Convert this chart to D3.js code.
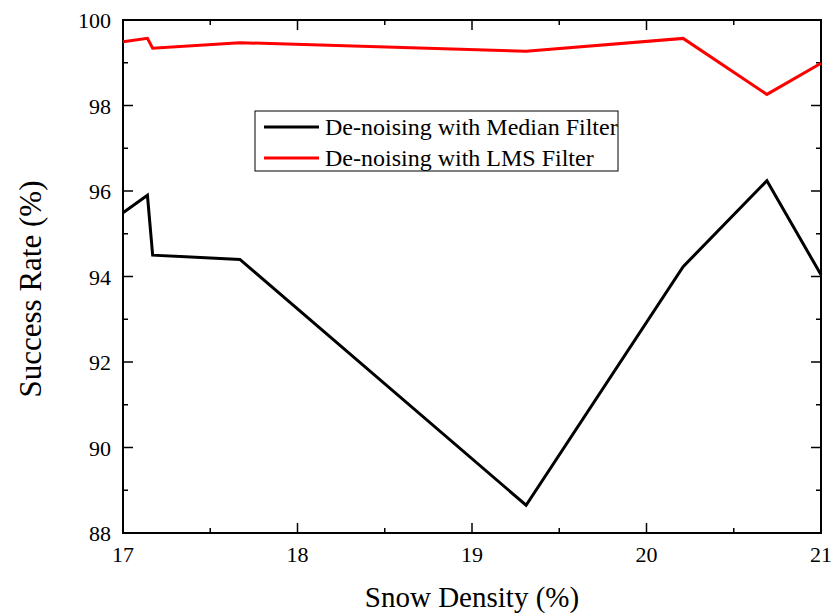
<!DOCTYPE html>
<html>
<head>
<meta charset="utf-8">
<script src="https://cdn.jsdelivr.net/npm/d3@7"></script>
<style>
  body { margin: 0; background: #fff; }
  text { font-family: "Liberation Serif", "Times New Roman", serif; }
</style>
</head>
<body>
<svg id="chart" width="832" height="613"></svg>
<script>
// Snow density (%) on x, success rate (%) on y
const density = [17, 17.14, 17.17, 17.67, 19.31, 20.21, 20.69, 21];
const medianRate = [95.49, 95.9, 94.5, 94.4, 88.65, 94.23, 96.24, 94.04];
const lmsRate = [99.49, 99.57, 99.34, 99.47, 99.27, 99.57, 98.26, 98.99];
const xTicks = [17, 18, 19, 20, 21];
const yTicks = [88, 90, 92, 94, 96, 98, 100];
const seriesNames = ["De-noising with Median Filter", "De-noising with LMS Filter"];
const seriesColors = ["#000000", "#ff0000"];

const svg = d3.select("#chart");
const plotLeft = 123, plotRight = 821, plotTop = 20, plotBottom = 533;

const x = d3.scaleLinear().domain([17, 21]).range([plotLeft, plotRight]);
const y = d3.scaleLinear().domain([88, 100]).range([plotBottom, plotTop]);

const xMinor = d3.range(17, 21.01, 0.5);
const yMinor = d3.range(88, 100.01, 1);

// frame
svg.append("rect")
    .attr("x", plotLeft).attr("y", plotTop)
    .attr("width", plotRight - plotLeft).attr("height", plotBottom - plotTop)
    .attr("fill", "none").attr("stroke", "#000").attr("stroke-width", 2);

// ticks, inward on all four sides
const tickG = svg.append("g").attr("stroke", "#000").attr("stroke-width", 1.5);
xMinor.forEach(v => {
    const len = Number.isInteger(v) ? 10 : 5;
    tickG.append("line").attr("x1", x(v)).attr("x2", x(v)).attr("y1", plotBottom).attr("y2", plotBottom - len);
    tickG.append("line").attr("x1", x(v)).attr("x2", x(v)).attr("y1", plotTop).attr("y2", plotTop + len);
});
yMinor.forEach(v => {
    const len = v % 2 === 0 ? 10 : 5;
    tickG.append("line").attr("y1", y(v)).attr("y2", y(v)).attr("x1", plotLeft).attr("x2", plotLeft + len);
    tickG.append("line").attr("y1", y(v)).attr("y2", y(v)).attr("x1", plotRight).attr("x2", plotRight - len);
});

// tick labels
svg.append("g").selectAll("text").data(xTicks).join("text")
    .attr("x", d => x(d)).attr("y", 562)
    .attr("text-anchor", "middle").attr("font-size", "22px")
    .text(d => d);

svg.append("g").selectAll("text").data(yTicks).join("text")
    .attr("x", 111).attr("y", d => y(d) + 8)
    .attr("text-anchor", "end").attr("font-size", "22px")
    .text(d => d);

// axis titles
svg.append("text")
    .attr("x", (plotLeft + plotRight) / 2).attr("y", 607)
    .attr("text-anchor", "middle").attr("font-size", "29px")
    .text("Snow Density (%)");

svg.append("text")
    .attr("transform", "translate(41, 289) rotate(-90)")
    .attr("text-anchor", "middle").attr("font-size", "31px")
    .text("Success Rate (%)");

// lines
const line = d3.line().x(d => x(d[0])).y(d => y(d[1]));
[medianRate, lmsRate].forEach((vals, i) => {
    svg.append("path")
        .datum(density.map((d, j) => [d, vals[j]]))
        .attr("d", line)
        .attr("fill", "none")
        .attr("stroke", seriesColors[i])
        .attr("stroke-width", 3)
        .attr("stroke-linejoin", "miter");
});

// legend
const legend = svg.append("g");
legend.append("rect")
    .attr("x", 255).attr("y", 111).attr("width", 363).attr("height", 60)
    .attr("fill", "#fff").attr("stroke", "#000").attr("stroke-width", 1);
seriesNames.forEach((name, i) => {
    const ly = 127 + i * 31;
    legend.append("line")
        .attr("x1", 264).attr("x2", 319).attr("y1", ly).attr("y2", ly)
        .attr("stroke", seriesColors[i]).attr("stroke-width", 3);
    legend.append("text")
        .attr("x", 325).attr("y", ly + 8)
        .attr("font-size", "24px")
        .text(name);
});
</script>
</body>
</html>
